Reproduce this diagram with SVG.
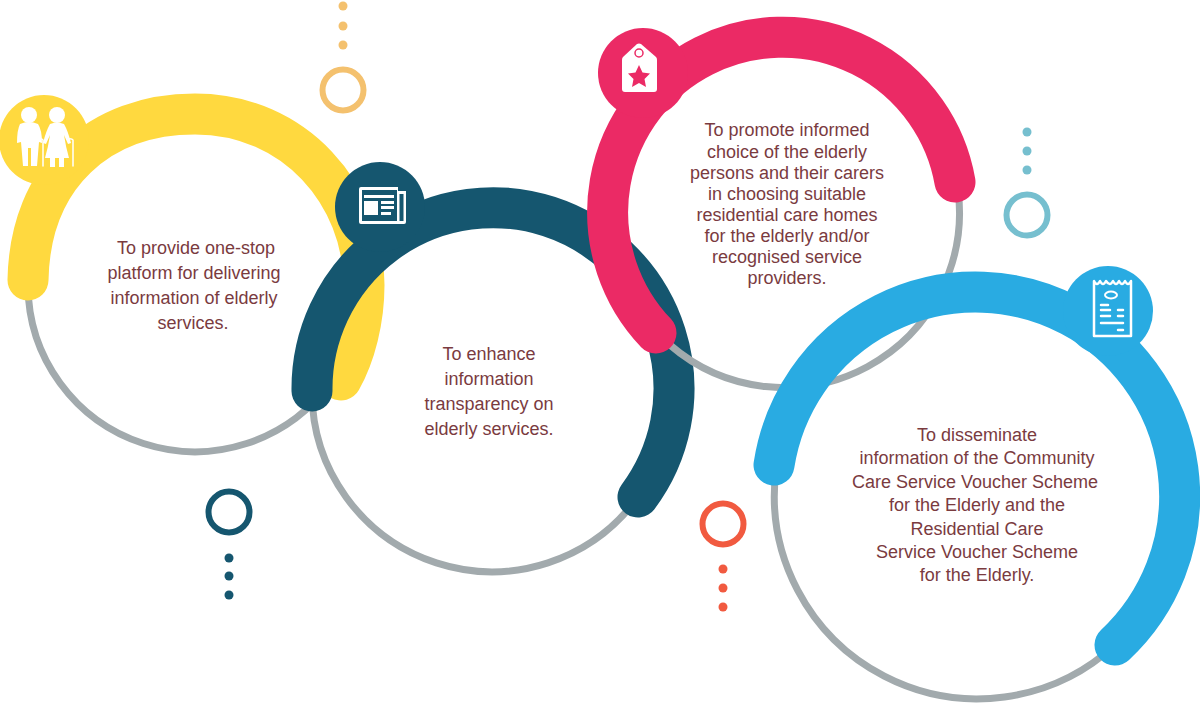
<svg xmlns="http://www.w3.org/2000/svg" width="1200" height="703" viewBox="0 0 1200 703">
<style>
.g{fill:none;stroke:#a2aaad;stroke-width:7}
.a{fill:none;stroke-width:41;stroke-linecap:round}
.w{fill:#fff}
.l{fill:none;stroke:#fff;stroke-linecap:round}
text{font-family:"Liberation Sans",Arial,sans-serif;font-size:18px;fill:#7a3b3f;text-anchor:middle}
.r{fill:none;stroke-width:6}
</style>
<g id="node-elderly">
<path class="g" d="M28 285A167 167 0 0 0 330 383"/>
<path class="a" stroke="#ffd93f" d="M28 280C30 175 100 114 195 114C295 114 364 195 364 285C364 320 355 355 341 380"/>
<circle cx="44" cy="140" r="45" fill="#ffd93f"/>
<g class="w">
<circle cx="29" cy="115" r="8"/><path d="M20 124Q29 120 38 124Q42 130 42 143L39 142L37 166H31V148H28V166H23L21 142L17 143Q17 130 20 124Z"/>
<circle cx="57" cy="115" r="8"/><path d="M50 124Q57 121 64 124Q68 131 71 143L68 144L64 135Q66 148 69 158H45Q48 148 50 135L46 144L43 143Q46 131 50 124ZM50 158H55V167H50ZM59 158H64V167H59Z"/>
</g>
<path class="l" stroke-width="1.500" d="M38 139Q42 138 43 140V166M67 139Q72 138 73 140V166"/>
<text x="196" y="254">To provide one-stop</text>
<text x="194" y="279">platform for delivering</text>
<text x="194" y="304">information of elderly</text>
<text x="193" y="329">services.</text>
</g>
<g id="node-transparency">
<path class="g" d="M312 391A180 180 0 0 0 638 497"/>
<path class="a" stroke="#15566f" d="M312 391A181 181 0 1 1 638 497"/>
<circle cx="380" cy="207" r="45" fill="#15566f"/>
<path class="w" d="M361 187H398V191H406V222Q406 224 404 224H361Q359 224 359 222V189Q359 187 361 187Z"/>
<rect x="362" y="190" width="35" height="31" fill="#15566f"/>
<rect x="399.500" y="194" width="4" height="27" fill="#15566f"/>
<path class="w" d="M364 195H394V198H364ZM364 201H378V215H364ZM381 201H394V204H381ZM381 206H394V209H381ZM381 212H391V215H381Z"/>
<text x="489" y="360">To enhance</text>
<text x="489" y="385">information</text>
<text x="489" y="410">transparency on</text>
<text x="489" y="435">elderly services.</text>
</g>
<g id="node-choice">
<path class="g" d="M958 190A175 175 0 0 1 670 345"/>
<path class="a" stroke="#eb2a65" d="M955 182A175 175 0 1 0 656 333"/>
<circle cx="643" cy="73" r="45" fill="#eb2a65"/>
<path class="w" d="M637 44Q639 43 641 44L656 57Q657 58 657 60V89Q657 92 654 92H625Q622 92 622 89V60Q622 58 623 57Z"/>
<circle cx="639" cy="53" r="4" fill="none" stroke="#eb2a65" stroke-width="1.500"/>
<path fill="#eb2a65" d="M639 65L642.500 72.500L650 73.500L644.500 79L646 87L639 83L632 87L633.500 79L628 73.500L635.500 72.500Z"/>
<text x="787" y="136">To promote informed</text>
<text x="787" y="157.500">choice of the elderly</text>
<text x="787" y="178.500">persons and their carers</text>
<text x="787" y="199.500">in choosing suitable</text>
<text x="787" y="221">residential care homes</text>
<text x="787" y="242">for the elderly and/or</text>
<text x="787" y="263">recognised service</text>
<text x="787" y="284">providers.</text>
</g>
<g id="node-voucher">
<path class="g" d="M776 470A203 203 0 0 0 1115 645"/>
<path class="a" stroke="#29abe2" d="M774 465A204 204 0 1 1 1115 645"/>
<circle cx="1108" cy="311" r="45" fill="#29abe2"/>
<path class="l" stroke-width="2.500" stroke-linejoin="round" d="M1094 281V336H1131V281Q1128 287 1125 281Q1122 287 1119 281Q1116 287 1113 281Q1110 287 1106 281Q1103 287 1100 281Q1097 287 1094 281Z"/>
<ellipse cx="1111" cy="295" rx="6" ry="3.500" fill="none" stroke="#fff" stroke-width="2"/>
<path class="l" stroke-width="2.500" d="M1101 305H1108M1101 310H1110M1101 316H1110M1118 310H1123M1118 316H1123M1101 323H1123M1118 330H1123"/>
<text x="977" y="441">To disseminate</text>
<text x="977" y="464">information of the Community</text>
<text x="975" y="488">Care Service Voucher Scheme</text>
<text x="977" y="511">for the Elderly and the</text>
<text x="977" y="535">Residential Care</text>
<text x="977" y="558">Service Voucher Scheme</text>
<text x="977" y="581">for the Elderly.</text>
</g>
<g id="decor">
<g fill="#f4c16e"><circle cx="343" cy="6" r="4.500"/><circle cx="343" cy="26" r="4.500"/><circle cx="343" cy="45" r="4.500"/></g>
<circle class="r" cx="343" cy="90" r="20.500" stroke="#f4c16e"/>
<g fill="#15566f"><circle cx="229" cy="558" r="4.500"/><circle cx="229" cy="576" r="4.500"/><circle cx="229" cy="595" r="4.500"/></g>
<circle class="r" cx="229" cy="512" r="20.500" stroke="#15566f"/>
<g fill="#76bfcf"><circle cx="1027" cy="132" r="4.500"/><circle cx="1027" cy="151" r="4.500"/><circle cx="1027" cy="170" r="4.500"/></g>
<circle class="r" cx="1027" cy="215" r="20.500" stroke="#76bfcf"/>
<g fill="#f15a40"><circle cx="723" cy="569" r="4.500"/><circle cx="723" cy="588" r="4.500"/><circle cx="723" cy="607" r="4.500"/></g>
<circle class="r" cx="723" cy="524" r="20.500" stroke="#f15a40"/>
</g>
</svg>
